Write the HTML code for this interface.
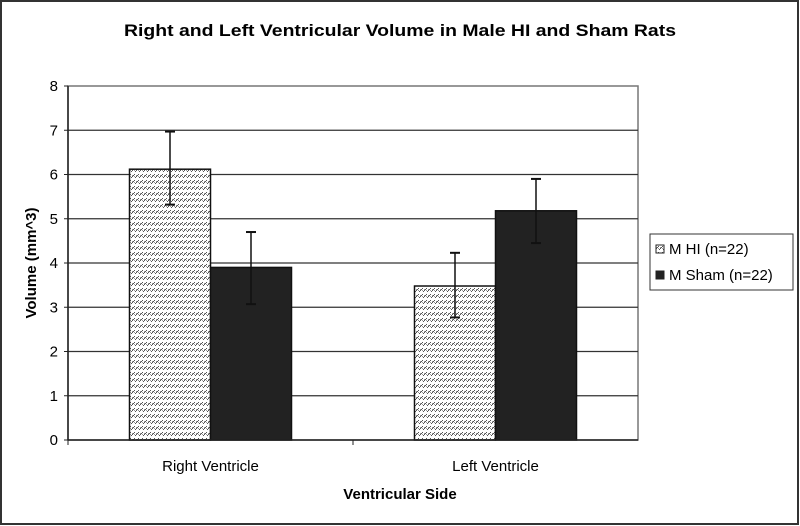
<!DOCTYPE html>
<html><head><meta charset="utf-8"><style>
html,body{margin:0;padding:0;background:#fff;}
svg{display:block;font-family:"Liberation Sans",Arial,sans-serif;}
</style></head><body>
<svg id="chart" width="800" height="526" viewBox="0 0 800 526">
<defs>
<pattern id="hatch" width="4" height="6" patternUnits="userSpaceOnUse">
<rect width="4" height="6" fill="#fff"/>
<rect x="0" y="2" width="1" height="1" fill="#555"/>
<rect x="1" y="1" width="1" height="1" fill="#555"/>
<rect x="2" y="0" width="1" height="1" fill="#555"/>
<rect x="3" y="3" width="1" height="1" fill="#555"/>
<rect x="0" y="1" width="1" height="1" fill="#999"/>
<rect x="2" y="2" width="1" height="1" fill="#999"/>
</pattern>
</defs>
<rect x="1" y="1" width="797" height="523" fill="#fff" stroke="#333" stroke-width="2"/>
<text x="400" y="36" text-anchor="middle" font-size="17" font-weight="bold" textLength="552" lengthAdjust="spacingAndGlyphs">Right and Left Ventricular Volume in Male HI and Sham Rats</text>
<g id="grid"></g>
<g id="bars"></g>
<g id="axes"></g>
<text x="400" y="499" text-anchor="middle" font-size="15" font-weight="bold">Ventricular Side</text>
<text transform="translate(36,263) rotate(-90)" text-anchor="middle" font-size="15" font-weight="bold">Volume (mm^3)</text>
<g>
<rect x="650" y="234" width="143" height="56" fill="#fff" stroke="#333" stroke-width="1"/>
<g>
<rect x="656" y="245" width="8" height="8" fill="url(#hatch)" stroke="#222"/>
<text x="669" y="254" font-size="15">M HI (n=22)</text>
</g>
<g>
<rect x="656" y="271" width="8" height="8" fill="#222" stroke="#222"/>
<text x="669" y="280" font-size="15">M Sham (n=22)</text>
</g>
</g>
</svg>
<script>
const categories = ["Right Ventricle", "Left Ventricle"];
const hiValues = [6.12, 3.48];
const hiErrHigh = [6.97, 4.23];
const hiErrLow = [5.32, 2.77];
const shamValues = [3.9, 5.18];
const shamErrHigh = [4.7, 5.9];
const shamErrLow = [3.07, 4.45];
const yTicks = [0,1,2,3,4,5,6,7,8];

const NS="http://www.w3.org/2000/svg";
const L=68,R=638,T=86,B=440,yMax=8;
const y=v=>B-(v/yMax)*(B-T);
const catW=(R-L)/categories.length;
const cx=i=>L+catW*(i+0.5);
const barW=81;
function mk(tag,attrs,parent){const e=document.createElementNS(NS,tag);for(const k in attrs)e.setAttribute(k,attrs[k]);parent.appendChild(e);return e;}
const grid=document.getElementById('grid'),bars=document.getElementById('bars'),axes=document.getElementById('axes');
mk('rect',{x:L,y:T,width:R-L,height:B-T,fill:'#fff',stroke:'#777','stroke-width':1.5},grid);
yTicks.forEach(t=>{
  if(t>0&&t<yMax){const g=mk('line',{x1:L,x2:R,y1:y(t),y2:y(t),stroke:'#333','stroke-width':1.3},grid);
  
  }
  mk('line',{x1:L-4,x2:L,y1:y(t),y2:y(t),stroke:'#222'},axes);
  const tx=mk('text',{x:L-10,y:y(t)+5,'text-anchor':'end','font-size':15},axes);
  tx.textContent=t;
  
  
});
mk('line',{x1:L,x2:L,y1:T,y2:B,stroke:'#222','stroke-width':1.5},axes);
mk('line',{x1:L,x2:R,y1:B,y2:B,stroke:'#222','stroke-width':1.5},axes);
categories.forEach((c,i)=>{
  mk('line',{x1:L+catW*i,x2:L+catW*i,y1:B,y2:B+5,stroke:'#222'},axes);
  const tx=mk('text',{x:cx(i),y:B+31,'text-anchor':'middle','font-size':15},axes);
  tx.textContent=c;
  
  
  [[hiValues,hiErrHigh,hiErrLow,'url(#hatch)','hi',-barW],[shamValues,shamErrHigh,shamErrLow,'#222','sham',0]].forEach(s=>{
    const v=s[0][i],x0=cx(i)+s[5];
    const b=mk('rect',{x:x0,y:y(v),width:barW,height:B-y(v),fill:s[3],stroke:'#111','stroke-width':1.5},bars);
    
    
    const ex=x0+barW/2;
    const eb=mk('g',{},bars);
    
    
    mk('line',{x1:ex,x2:ex,y1:y(s[1][i]),y2:y(s[2][i]),stroke:'#111','stroke-width':1.5},eb);
    mk('line',{x1:ex-5,x2:ex+5,y1:y(s[1][i]),y2:y(s[1][i]),stroke:'#111','stroke-width':2},eb);
    mk('line',{x1:ex-5,x2:ex+5,y1:y(s[2][i]),y2:y(s[2][i]),stroke:'#111','stroke-width':2},eb);
  });
});
</script>
</body></html>
